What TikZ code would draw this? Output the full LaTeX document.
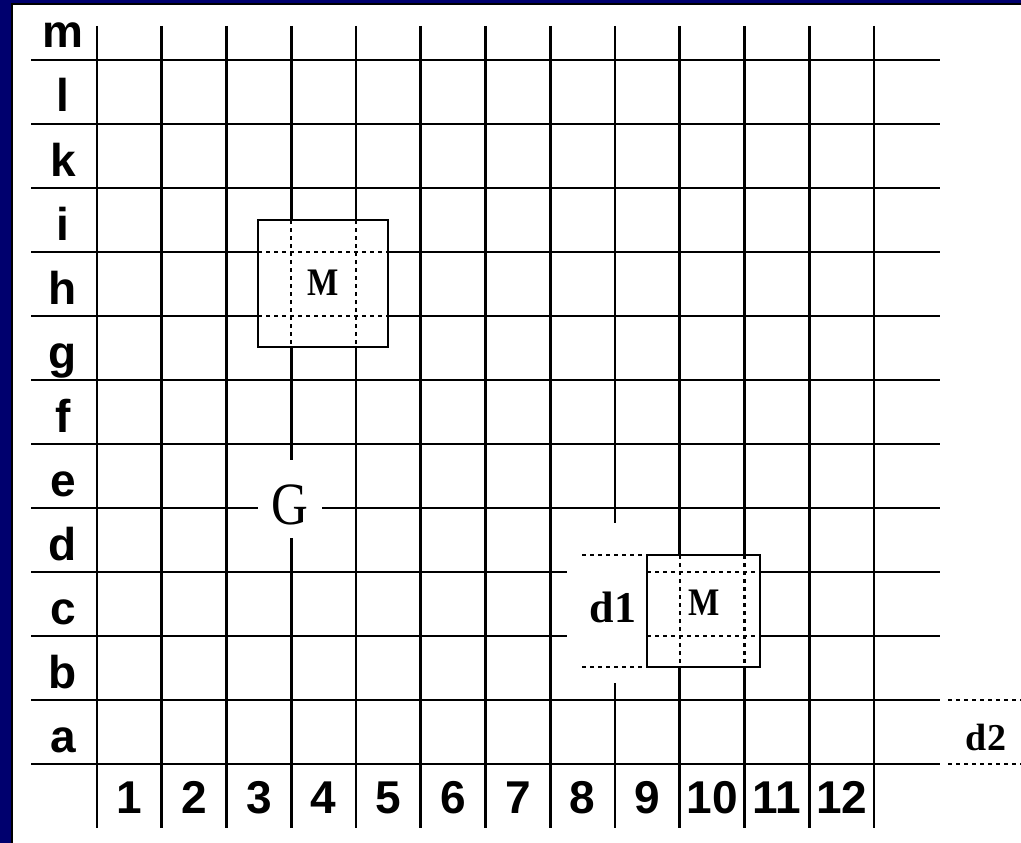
\documentclass[tikz,border=0pt]{standalone}
\usepackage{fontspec}
\setmainfont{Liberation Serif}
\newfontfamily\labfont{Liberation Sans}
\definecolor{navy}{RGB}{0,0,110}
\begin{document}
\begin{tikzpicture}[x=1pt,y=-1pt,
  gl/.style={line width=2.6pt},
  dl/.style={line width=2.4pt, dash pattern=on 4pt off 4pt},
  vdl/.style={line width=2.4pt, dash pattern=on 3.5pt off 4.5pt},
  boxl/.style={line width=2.6pt},
  rowlab/.style={anchor=base, inner sep=0pt, font=\labfont\bfseries\fontsize{46}{48}\selectfont},
  collab/.style={anchor=base, inner sep=0pt, font=\labfont\bfseries\fontsize{46}{48}\selectfont},
  mlab/.style={inner sep=0pt, xscale=0.85, font=\bfseries\fontsize{39}{41}\selectfont},
  serifl/.style={inner sep=0pt, font=\bfseries\fontsize{44}{46}\selectfont}]
\useasboundingbox (0,0) rectangle (1021,843);
\fill[navy] (0,0) rectangle (1021,843);
\fill[white] (12,4) rectangle (1021,843);
\draw[line width=1.5pt] (12,843) -- (12,4) -- (1021,4);
% horizontal grid lines
\foreach \j in {0,1,2,5,6,10,11}
  \draw[gl] (31,{60+64*\j}) -- (940,{60+64*\j});
\foreach \j in {3,4} {
  \draw[gl] (31,{60+64*\j}) -- (258,{60+64*\j});
  \draw[dl] (258,{60+64*\j}) -- (388,{60+64*\j});
  \draw[gl] (388,{60+64*\j}) -- (940,{60+64*\j});
}
\draw[gl] (31,508) -- (258,508);
\draw[gl] (322,508) -- (940,508);
\foreach \j in {8,9} {
  \draw[gl] (31,{60+64*\j}) -- (567,{60+64*\j});
  \draw[dl] (647,{60+64*\j}) -- (760,{60+64*\j});
  \draw[gl] (760,{60+64*\j}) -- (940,{60+64*\j});
}
\foreach \j in {10,11}
  \draw[dl] (948,{60+64*\j}) -- (1021,{60+64*\j});
% vertical grid lines
\foreach \i in {0,1,2,5,6,7,11,12}
  \draw[gl] ({97+64.75*\i},26) -- ({97+64.75*\i},828);
\draw[gl] (291.25,26) -- (291.25,220);
\draw[vdl] (291.25,220) -- (291.25,347);
\draw[gl] (291.25,347) -- (291.25,460);
\draw[gl] (291.25,538) -- (291.25,828);
\draw[gl] (356,26) -- (356,220);
\draw[vdl] (356,220) -- (356,347);
\draw[gl] (356,347) -- (356,828);
\draw[gl] (615,26) -- (615,523);
\draw[gl] (615,683) -- (615,828);
\foreach \x in {679.75,744.5} {
  \draw[gl] (\x,26) -- (\x,555);
  \draw[vdl] (\x,555) -- (\x,667);
  \draw[gl] (\x,667) -- (\x,828);
}
% boxes
\draw[boxl] (258,220) rectangle (388,347);
\draw[boxl] (647,555) rectangle (760,667);
\draw[dl] (582,555) -- (647,555);
\draw[dl] (582,667) -- (647,667);
% labels
\foreach \l [count=\k from 0] in {m,l,k,i,h,g,f,e,d,c,b,a}
  \node[rowlab] (r\l) at (63,{48+64*\k}) {\l};
\foreach \n in {1,...,12}
  \node[collab] (c\n) at ({97+64.75*(\n-1)+32.4},813) {\n};
\node[mlab] (M1) at (323,283) {M};
\node[mlab] (M2) at (704,603) {M};
\node[inner sep=0pt, xscale=0.85, font=\fontsize{60}{62}\selectfont] (G) at (290,505) {G};
\node[serifl] (d1) at (613,607) {d1};
\node[serifl, font=\bfseries\fontsize{38}{40}\selectfont] (d2) at (986,737) {d2};
\end{tikzpicture}
\end{document}
